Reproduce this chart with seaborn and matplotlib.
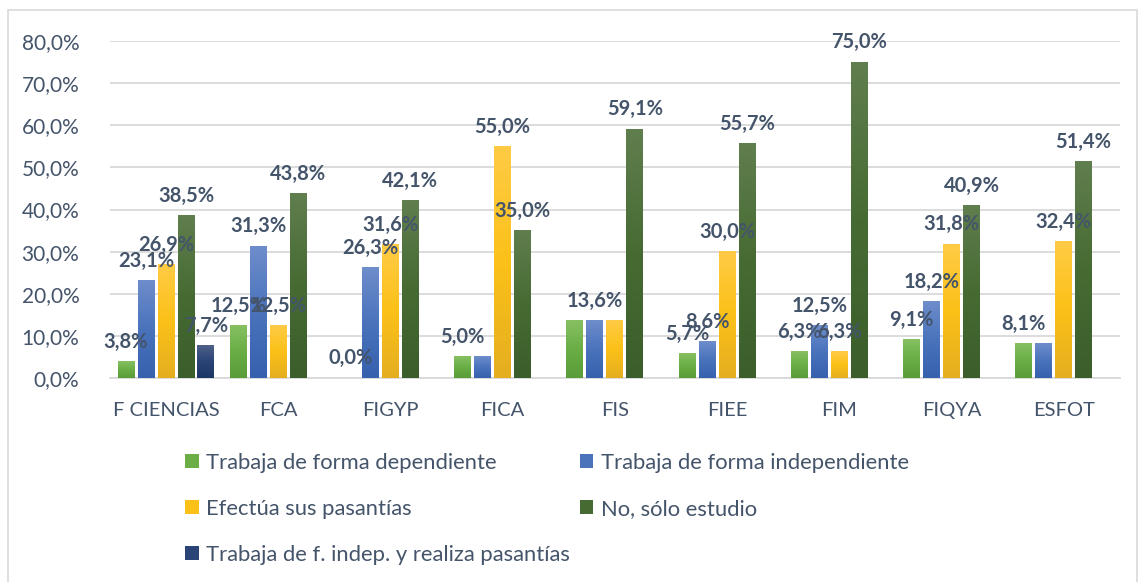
import numpy as np
import pandas as pd
import matplotlib
matplotlib.use("Agg")
import matplotlib.pyplot as plt
import seaborn as sns
from matplotlib.colors import LinearSegmentedColormap
from matplotlib.patches import Patch, Rectangle
from matplotlib.ticker import FuncFormatter, MultipleLocator

facultades = ["F CIENCIAS", "FCA", "FIGYP", "FICA", "FIS", "FIEE", "FIM", "FIQYA", "ESFOT"]
series = ["Trabaja de forma dependiente", "Trabaja de forma independiente",
          "Efectúa sus pasantías", "No, sólo estudio",
          "Trabaja de f. indep. y realiza pasantías"]

dependiente = [3.8, 12.5, 0.0, 5.0, 13.6, 5.7, 6.3, 9.1, 8.1]
independiente = [23.1, 31.3, 26.3, 5.0, 13.6, 8.6, 12.5, 18.2, 8.1]
pasantias = [26.9, 12.5, 31.6, 55.0, 13.6, 30.0, 6.3, 31.8, 32.4]
solo_estudio = [38.5, 43.8, 42.1, 35.0, 59.1, 55.7, 75.0, 40.9, 51.4]
indep_pasantias = [7.7, None, None, None, None, None, None, None, None]

# which data labels are visible in the original (some were removed there)
etiquetas = {
    series[0]: [1, 1, 1, 1, 0, 1, 1, 1, 1],
    series[1]: [1, 1, 1, 0, 1, 1, 1, 1, 0],
    series[2]: [1, 1, 1, 1, 0, 1, 1, 1, 1],
    series[3]: [1, 1, 1, 1, 1, 1, 1, 1, 1],
    series[4]: [1, 0, 0, 0, 0, 0, 0, 0, 0],
}

colores = {
    series[0]: ("#86C062", "#6AAE45", "#5A9C38"),
    series[1]: ("#6E8DCB", "#4A73BC", "#3761AE"),
    series[2]: ("#FFCB45", "#FBC118", "#E5AE20"),
    series[3]: ("#607E4E", "#466B32", "#3B5E2B"),
    series[4]: ("#4E5F88", "#2A4477", "#1B3566"),
}

valores = [dependiente, independiente, pasantias, solo_estudio, indep_pasantias]
rows = []
for s, vals in zip(series, valores):
    for f, v in zip(facultades, vals):
        if v is not None:
            rows.append({"facultad": f, "serie": s, "valor": v})
df = pd.DataFrame(rows)

plt.rcParams["font.family"] = ["Lato", "DejaVu Sans"]
texto = "#44546A"

fig = plt.figure(figsize=(11.45, 5.82), dpi=100)
ax = fig.add_axes([0.096, 0.3505, 0.882, 0.579])

sns.barplot(data=df, x="facultad", y="valor", hue="serie", order=facultades,
            hue_order=series, palette={s: colores[s][1] for s in series},
            width=0.89, gap=0.15, dodge=True, errorbar=None, ax=ax,
            legend=False, saturation=1, zorder=2)

# Excel-like vertical gradient on each bar, plus the data labels
grad = np.linspace(0, 1, 100).reshape(-1, 1)
for s, cont in zip(series, ax.containers):
    cmap = LinearSegmentedColormap.from_list(s, list(colores[s])[::-1])
    for bar in cont:
        h = bar.get_height()
        if not np.isfinite(h):
            continue
        x0 = bar.get_x()
        xc = x0 + bar.get_width() / 2
        if h > 0:
            ax.imshow(grad, cmap=cmap, origin="lower", aspect="auto",
                      extent=[x0, x0 + bar.get_width(), 0, h], zorder=3)
        if etiquetas[s][int(round(xc))]:
            ax.annotate(f"{h:.1f}".replace(".", ",") + "%", (xc, h),
                        xytext=(0, 7), textcoords="offset points",
                        ha="center", va="bottom", fontsize=14.5,
                        fontweight="bold", color=texto,
                        annotation_clip=False, zorder=5)

ax.set_xlim(-0.5, len(facultades) - 0.5)
ax.set_ylim(0, 80)
ax.yaxis.set_major_locator(MultipleLocator(10))
ax.yaxis.set_major_formatter(FuncFormatter(lambda v, p: f"{v:.1f}".replace(".", ",") + "%"))
ax.grid(axis="y", color="#D9D9D9", linewidth=1.3, zorder=0)
ax.set_axisbelow(True)
for side in ["top", "right", "left"]:
    ax.spines[side].set_visible(False)
ax.spines["bottom"].set_color("#D9D9D9")
ax.spines["bottom"].set_linewidth(1.3)
ax.tick_params(axis="both", length=0, labelcolor=texto)
ax.tick_params(axis="x", pad=17, labelsize=14.5)
ax.tick_params(axis="y", pad=22, labelsize=15)
ax.set_xlabel("")
ax.set_ylabel("")

orden = [0, 2, 4, 1, 3]
handles = [Patch(facecolor=colores[series[i]][1], edgecolor="none") for i in orden]
fig.legend(handles, [series[i] for i in orden], ncol=2, loc="upper left",
           bbox_to_anchor=(0.162, 0.222), frameon=False, fontsize=15.8,
           labelcolor=texto, handlelength=0.6, handleheight=0.6,
           handletextpad=0.35, columnspacing=0.45, labelspacing=1.18,
           borderpad=0, borderaxespad=0)

fig.patches.append(Rectangle((8 / 1145, -0.01), 1129 / 1145, 1 - 10 / 582 + 0.01,
                             transform=fig.transFigure, fill=False,
                             edgecolor="#D9D9D9", linewidth=1.2))

fig.savefig("out.png", dpi=100)
